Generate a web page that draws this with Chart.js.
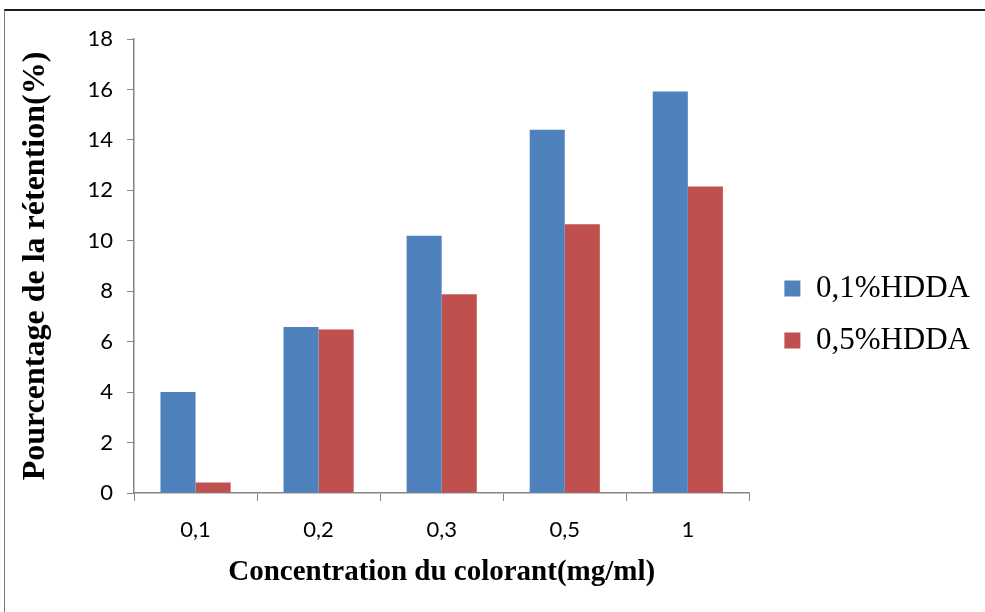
<!DOCTYPE html>
<html>
<head>
<meta charset="utf-8">
<script src="https://cdn.jsdelivr.net/npm/chart.js@4"></script>
<style>
  html,body{margin:0;padding:0;background:#fff;}
  #wrap{position:relative;width:985px;height:612px;overflow:hidden;}
  #frame{position:absolute;left:4px;top:9px;right:-2px;bottom:-2px;border-top:2px solid #1a1a1a;border-left:1px solid #7a7a7a;}
  canvas{position:absolute;left:0;top:0;}
</style>
</head>
<body>
<div id="wrap">
  <div id="frame"></div>
  <canvas id="chart" width="985" height="612"></canvas>
</div>
<script>
const categories = ['0,1','0,2','0,3','0,5','1'];
const hdda01 = [4.0, 6.58, 10.2, 14.4, 15.92];
const hdda05 = [0.42, 6.48, 7.88, 10.66, 12.15];
const seriesNames = ['0,1%HDDA','0,5%HDDA'];

const axisGray = '#868686';
const serif = '"Liberation Serif", "Times New Roman", serif';
const sans = 'Lato, "Open Sans", sans-serif';

// nudge legend to the right, closer to where Excel puts it
const legendShift = {
  id:'legendShift',
  afterLayout(chart){
    const l = chart.legend;
    if(!l) return;
    l.left += 14; l.right += 14;
  }
};

new Chart(document.getElementById('chart'), {
  type:'bar',
  data:{
    labels:categories,
    datasets:[
      { label:seriesNames[0], data:hdda01, backgroundColor:'#4F81BD' },
      { label:seriesNames[1], data:hdda05, backgroundColor:'#C0504D' }
    ]
  },
  options:{
    responsive:false,
    animation:false,
    layout:{ padding:{ left:14, top:39, right:19, bottom:22 } },
    datasets:{ bar:{ categoryPercentage:0.57, barPercentage:1 } },
    plugins:{
      legend:{
        position:'right',
        labels:{
          boxWidth:16, boxHeight:16, padding:21, color:'#000',
          font:{ family:serif, size:31 }
        }
      },
      tooltip:{ enabled:false }
    },
    scales:{
      x:{
        offset:true,
        grid:{ offset:true, drawOnChartArea:false, drawTicks:true, tickLength:8, color:axisGray },
        border:{ color:axisGray, width:1.5 },
        ticks:{ color:'#000', padding:16, font:{ family:sans, size:22 } },
        title:{ display:true, text:'Concentration du colorant(mg/ml)', color:'#000', padding:0,
          font:{ family:serif, size:29, weight:'bold' } },
        afterFit(s){ s.height = 97; }
      },
      y:{
        min:0, max:18,
        grid:{ drawOnChartArea:false, drawTicks:true, tickLength:7, color:axisGray },
        border:{ color:axisGray, width:1.5 },
        ticks:{ stepSize:2, color:'#000', padding:14, font:{ family:sans, size:22 } },
        title:{ display:true, text:'Pourcentage de la rétention(%)', color:'#000', padding:{top:3,bottom:0},
          font:{ family:serif, size:32, weight:'bold' } },
        afterFit(s){ s.width = 120; }
      }
    }
  },
  plugins:[legendShift]
});
</script>
</body>
</html>
